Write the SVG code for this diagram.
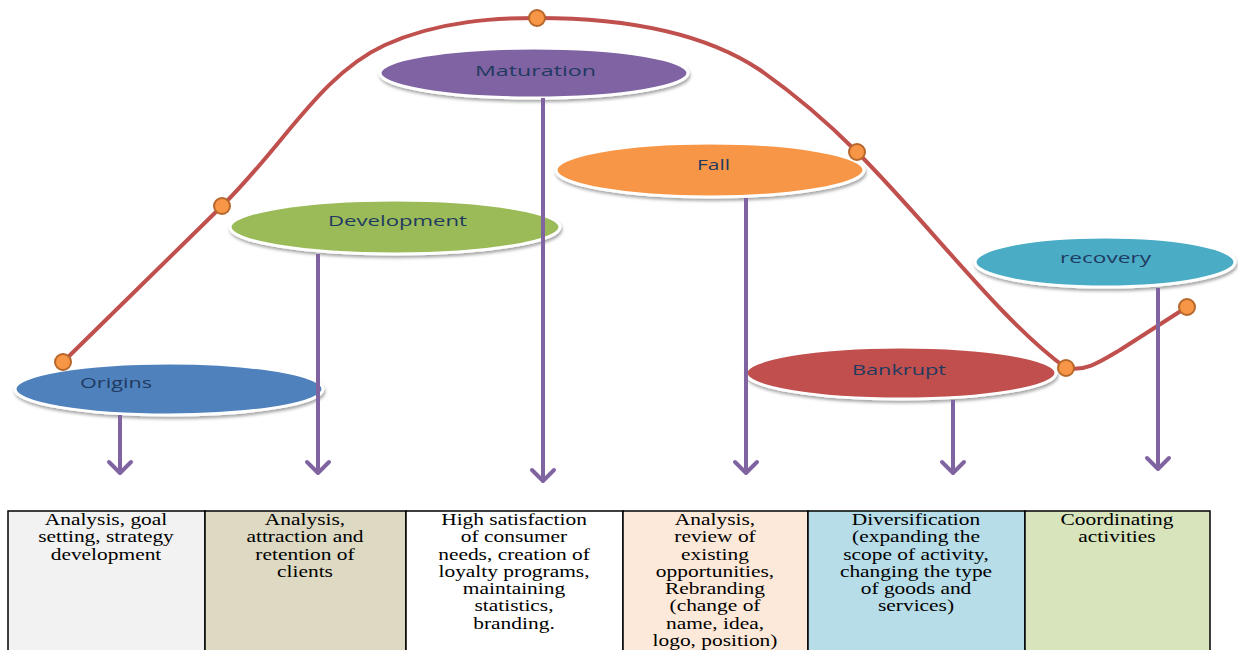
<svg xmlns="http://www.w3.org/2000/svg" width="1238" height="650" viewBox="0 0 1238 650">
<defs>
<filter id="sh" x="-10%" y="-30%" width="120%" height="170%">
<feDropShadow dx="1" dy="2.5" stdDeviation="1.5" flood-color="#000" flood-opacity="0.35"/>
</filter>
<style>
.el{stroke:#fff;stroke-width:3;filter:url(#sh)}
.lbl{font-family:"Open Sans","Liberation Sans",sans-serif;font-size:15px;fill:#1F3A60}
.arr{stroke:#8064A2;stroke-width:4;fill:none}
.hd{stroke:#8064A2;stroke-width:4;fill:none;stroke-linecap:round;stroke-linejoin:round}
.dot{fill:#F79646;stroke:#B7672A;stroke-width:2}
.cell{stroke:#000;stroke-width:1.5}
.tt{font-size:17px;fill:#000;text-anchor:middle}
</style>
</defs>

<g id="table">
<rect class="cell" x="8" y="511" width="197" height="150" fill="#F2F2F2"/>
<rect class="cell" x="205" y="511" width="201" height="150" fill="#DDD9C3"/>
<rect class="cell" x="406" y="511" width="217" height="150" fill="#FFFFFF"/>
<rect class="cell" x="623" y="511" width="185" height="150" fill="#FDE9D9"/>
<rect class="cell" x="808" y="511" width="217" height="150" fill="#B7DDE8"/>
<rect class="cell" x="1025" y="511" width="185" height="150" fill="#D7E4BC"/>
<g font-family="'Liberation Serif', 'DejaVu Serif', 'Times New Roman', serif">
<g transform="translate(106,0) scale(1.26,1)"><text class="tt"><tspan x="0" y="525">Analysis, goal</tspan><tspan x="0" y="542.3">setting, strategy</tspan><tspan x="0" y="559.6">development</tspan></text></g>
<g transform="translate(305,0) scale(1.26,1)"><text class="tt"><tspan x="0" y="525">Analysis,</tspan><tspan x="0" y="542.3">attraction and</tspan><tspan x="0" y="559.6">retention of</tspan><tspan x="0" y="576.9">clients</tspan></text></g>
<g transform="translate(514,0) scale(1.26,1)"><text class="tt"><tspan x="0" y="525">High satisfaction</tspan><tspan x="0" y="542.3">of consumer</tspan><tspan x="0" y="559.6">needs, creation of</tspan><tspan x="0" y="576.9">loyalty programs,</tspan><tspan x="0" y="594.2">maintaining</tspan><tspan x="0" y="611.5">statistics,</tspan><tspan x="0" y="628.8">branding.</tspan></text></g>
<g transform="translate(715,0) scale(1.26,1)"><text class="tt"><tspan x="0" y="525">Analysis,</tspan><tspan x="0" y="542.3">review of</tspan><tspan x="0" y="559.6">existing</tspan><tspan x="0" y="576.9">opportunities,</tspan><tspan x="0" y="594.2">Rebranding</tspan><tspan x="0" y="611.5">(change of</tspan><tspan x="0" y="628.8">name, idea,</tspan><tspan x="0" y="646.1">logo, position)</tspan></text></g>
<g transform="translate(916,0) scale(1.26,1)"><text class="tt"><tspan x="0" y="525">Diversification</tspan><tspan x="0" y="542.3">(expanding the</tspan><tspan x="0" y="559.6">scope of activity,</tspan><tspan x="0" y="576.9">changing the type</tspan><tspan x="0" y="594.2">of goods and</tspan><tspan x="0" y="611.5">services)</tspan></text></g>
<g transform="translate(1117,0) scale(1.26,1)"><text class="tt"><tspan x="0" y="525">Coordinating</tspan><tspan x="0" y="542.3">activities</tspan></text></g>
</g>
</g>

<g id="origins"><ellipse class="el" cx="169" cy="389" rx="154" ry="26" fill="#4F81BD"/><text class="lbl" x="80" y="388" textLength="72" lengthAdjust="spacingAndGlyphs">Origins</text></g>
<g id="development"><ellipse class="el" cx="395" cy="227" rx="165" ry="27" fill="#9BBB59"/><text class="lbl" x="328" y="226" textLength="139" lengthAdjust="spacingAndGlyphs">Development</text></g>
<g id="maturation"><ellipse class="el" cx="534" cy="73" rx="154" ry="25" fill="#8064A2"/><text class="lbl" x="475" y="76" textLength="121" lengthAdjust="spacingAndGlyphs">Maturation</text></g>
<g id="fall"><ellipse class="el" cx="710" cy="170" rx="154" ry="27" fill="#F79646"/><text class="lbl" x="697" y="170" textLength="33" lengthAdjust="spacingAndGlyphs">Fall</text></g>
<g id="bankrupt"><ellipse class="el" cx="901" cy="373" rx="155" ry="26" fill="#C0504D"/><text class="lbl" x="852" y="375" textLength="94" lengthAdjust="spacingAndGlyphs">Bankrupt</text></g>
<g id="recovery"><ellipse class="el" cx="1105" cy="262" rx="130" ry="25" fill="#4BACC6"/><text class="lbl" x="1060" y="263" textLength="91" lengthAdjust="spacingAndGlyphs">recovery</text></g>

<g id="curve">
<path d="M63,362 L222,206 C285,144 320,75 385,45 C440,20 500,18 537,18 C620,18 700,30 760,70 C800,98 830,125 857,152 C930,225 1000,320 1066,368 C1085,372 1100,362 1120,350 L1187,307" fill="none" stroke="#C0504D" stroke-width="4" stroke-linejoin="round"/>
</g>

<g id="connectors">
<path class="arr" d="M120,415 V472"/><path class="hd" d="M109,462 L120,473 L131,462"/>
<path class="arr" d="M318,254 V472"/><path class="hd" d="M307,462 L318,473 L329,462"/>
<path class="arr" d="M543,98 V480"/><path class="hd" d="M532,470 L543,481 L554,470"/>
<path class="arr" d="M746,198 V472"/><path class="hd" d="M735,462 L746,473 L757,462"/>
<path class="arr" d="M953,400 V472"/><path class="hd" d="M942,462 L953,473 L964,462"/>
<path class="arr" d="M1158,288 V468"/><path class="hd" d="M1147,458 L1158,469 L1169,458"/>
</g>

<g id="dots">
<circle class="dot" cx="63" cy="362" r="8"/>
<circle class="dot" cx="222" cy="206" r="8"/>
<circle class="dot" cx="537" cy="18" r="8"/>
<circle class="dot" cx="857" cy="152" r="8"/>
<circle class="dot" cx="1066" cy="368" r="8"/>
<circle class="dot" cx="1187" cy="307" r="8"/>
</g>
</svg>
